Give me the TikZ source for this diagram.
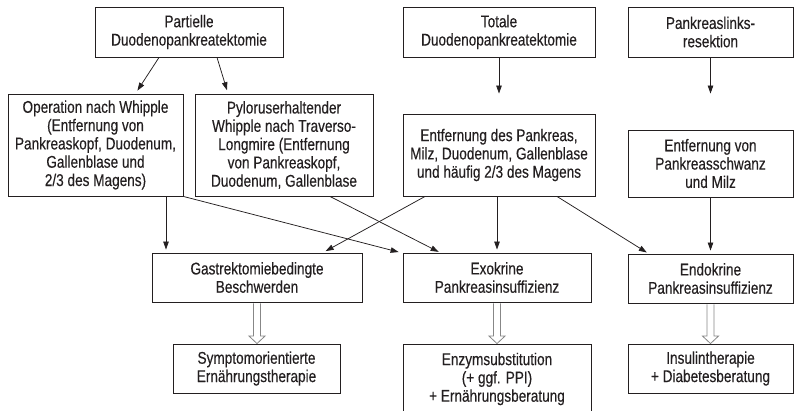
\documentclass[tikz,border=0pt]{standalone}
\usepackage{fontspec}
\setmainfont[FakeStretch=0.8,FakeBold=0.3]{Liberation Sans}
\usetikzlibrary{arrows.meta,calc}
\definecolor{ink}{RGB}{35,31,32}
\definecolor{hollow}{RGB}{135,135,135}
\begin{document}
\begin{tikzpicture}[x=1pt,y=-1pt,
  box/.style={draw=ink,line width=0.9pt,align=center,inner sep=0pt,
    text=ink,font=\fontsize{17}{18.3}\selectfont},
  arr/.style={draw=ink,line width=0.75pt,-{Triangle[length=8pt,width=5.5pt]}},
  hollowarrow/.style={draw=hollow,fill=white,line width=0.8pt,line join=miter}]
\useasboundingbox (0,0) rectangle (794,410);

% first row: operations
\node[box,minimum width=188pt,minimum height=50pt] (pd) at (189,32)
  {Partielle\\Duodenopankreatektomie};
\node[box,minimum width=192pt,minimum height=50pt] (td) at (499,32)
  {Totale\\Duodenopankreatektomie};
\node[box,minimum width=165pt,minimum height=50pt] (plr) at (710.5,32)
  {Pankreaslinks-\\resektion};

% second row: what is removed
\node[box,minimum width=175pt,minimum height=102pt] (whip) at (95.5,145)
  {Operation nach Whipple\\(Entfernung von\\Pankreaskopf, Duodenum,\\Gallenblase und\\2/3 des Magens)};
\node[box,minimum width=178pt,minimum height=102pt] (pyl) at (284,145)
  {Pyloruserhaltender\\Whipple nach Traverso-\\Longmire (Entfernung\\von Pankreaskopf,\\Duodenum, Gallenblase};
\node[box,minimum width=192pt,minimum height=82pt] (tot) at (499,155)
  {Entfernung des Pankreas,\\Milz, Duodenum, Gallenblase\\und häufig 2/3 des Magens};
\node[box,minimum width=165pt,minimum height=67pt] (schw) at (710.5,163.5)
  {Entfernung von\\Pankreasschwanz\\und Milz};

% third row: consequences
\node[box,minimum width=210pt,minimum height=49pt] (gas) at (257,277.5)
  {Gastrektomiebedingte\\Beschwerden};
\node[box,minimum width=188pt,minimum height=49pt] (exo) at (497,277.5)
  {Exokrine\\Pankreasinsuffizienz};
\node[box,minimum width=165pt,minimum height=49pt] (endo) at (710.5,278.5)
  {Endokrine\\Pankreasinsuffizienz};

% fourth row: therapy
\node[box,minimum width=167pt,minimum height=49pt] (sym) at (256.5,368.5)
  {Symptomorientierte\\Ernährungstherapie};
\node[box,minimum width=188pt,minimum height=70pt] (enz) at (497,379)
  {Enzymsubstitution\\(+ ggf. PPI)\\+ Ernährungsberatung};
\node[box,minimum width=165pt,minimum height=49pt] (ins) at (710.5,368.5)
  {Insulintherapie\\+ Diabetesberatung};

% operations to resections
\draw[arr,shorten >=3.5pt] ([xshift=-30pt]pd.south) -- ([xshift=40pt]whip.north);
\draw[arr,shorten >=3.5pt] ([xshift=28pt]pd.south) -- ([xshift=-56pt]pyl.north);
\draw[arr] (td.south) -- (td.south |- whip.north);
\draw[arr] (plr.south) -- (plr.south |- whip.north);

% resections to consequences
\draw[arr,shorten >=3pt] ([xshift=70.5pt]whip.south) -- ([xshift=70.5pt]whip.south |- gas.north);
\draw[arr,shorten >=2pt] (whip.south east) -- ([xshift=-2pt]exo.north west);
\draw[arr,shorten >=1.5pt] ([xshift=46pt]pyl.south) -- ([xshift=-57pt]exo.north);
\draw[arr,shorten >=3pt] ([xshift=-74pt]tot.south) -- ([xshift=66pt]gas.north);
\draw[arr,shorten >=3pt] (exo.north |- tot.south) -- (exo.north);
\draw[arr,shorten >=2pt] ([xshift=58pt]tot.south) -- ([xshift=-62pt]endo.north);
\draw[arr,shorten >=3pt] (schw.south) -- (endo.north);

% consequences to therapy: hollow block arrows
\foreach \a/\b in {gas/sym, exo/enz, endo/ins}{
  \draw[hollowarrow]
    ($(\a.south)+(-3.5,0.8)$) -- ($(\a.south |- \b.north)+(-3.5,-7.5)$)
    -- ($(\a.south |- \b.north)+(-8,-7.5)$) -- ($(\a.south |- \b.north)+(0,0)$)
    -- ($(\a.south |- \b.north)+(8,-7.5)$) -- ($(\a.south |- \b.north)+(3.5,-7.5)$)
    -- ($(\a.south)+(3.5,0.8)$);
}
\end{tikzpicture}
\end{document}
